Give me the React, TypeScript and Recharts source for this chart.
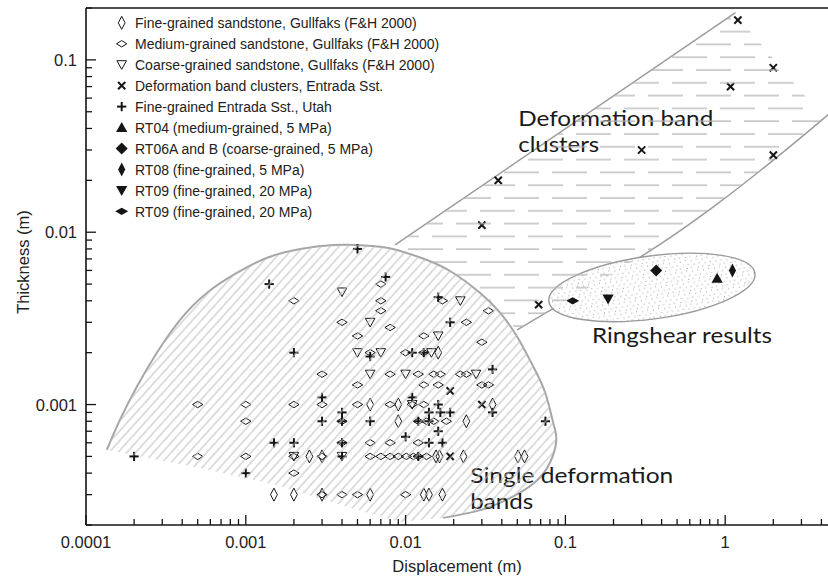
import React from 'react';
import {
  ComposedChart, XAxis, YAxis, Scatter, Line, ReferenceDot, ReferenceLine,
  Legend, Curve, Label,
} from 'recharts';

// ---------------- data (displacement m, thickness m) ----------------
const fineGrainedGullfaks = [
  { x: 0.0025, y: 0.0005 }, { x: 0.003, y: 0.0005 }, { x: 0.006, y: 0.001 }, { x: 0.009, y: 0.001 },
  { x: 0.035, y: 0.001 }, { x: 0.009, y: 0.0008 }, { x: 0.024, y: 0.0008 }, { x: 0.016, y: 0.002 },
  { x: 0.0155, y: 0.0005 }, { x: 0.0163, y: 0.0005 }, { x: 0.023, y: 0.0005 }, { x: 0.0505, y: 0.0005 },
  { x: 0.0555, y: 0.0005 }, { x: 0.0015, y: 0.0003 }, { x: 0.002, y: 0.0003 }, { x: 0.003, y: 0.0003 },
  { x: 0.006, y: 0.0003 }, { x: 0.013, y: 0.0003 }, { x: 0.014, y: 0.0003 }, { x: 0.017, y: 0.0003 },
];

const mediumGrainedGullfaks = [
  { x: 0.002, y: 0.004 }, { x: 0.007, y: 0.005 }, { x: 0.007, y: 0.004 }, { x: 0.007, y: 0.0035 },
  { x: 0.017, y: 0.004 }, { x: 0.033, y: 0.0035 }, { x: 0.004, y: 0.003 }, { x: 0.024, y: 0.003 },
  { x: 0.008, y: 0.0028 }, { x: 0.005, y: 0.0025 }, { x: 0.013, y: 0.0025 }, { x: 0.03, y: 0.0023 },
  { x: 0.006, y: 0.002 }, { x: 0.01, y: 0.002 }, { x: 0.013, y: 0.002 },
  { x: 0.003, y: 0.0015 }, { x: 0.008, y: 0.0015 }, { x: 0.012, y: 0.0015 }, { x: 0.015, y: 0.0015 },
  { x: 0.0165, y: 0.0015 }, { x: 0.022, y: 0.0015 }, { x: 0.024, y: 0.0015 },
  { x: 0.005, y: 0.0013 }, { x: 0.013, y: 0.0013 }, { x: 0.016, y: 0.0013 }, { x: 0.03, y: 0.0013 },
  { x: 0.033, y: 0.0013 },
  { x: 0.0005, y: 0.001 }, { x: 0.001, y: 0.001 }, { x: 0.002, y: 0.001 }, { x: 0.003, y: 0.001 },
  { x: 0.005, y: 0.001 }, { x: 0.008, y: 0.001 }, { x: 0.011, y: 0.001 }, { x: 0.013, y: 0.001 },
  { x: 0.001, y: 0.0008 }, { x: 0.004, y: 0.0008 }, { x: 0.012, y: 0.0008 }, { x: 0.0135, y: 0.0008 },
  { x: 0.015, y: 0.0008 }, { x: 0.018, y: 0.0008 },
  { x: 0.004, y: 0.0006 }, { x: 0.006, y: 0.0006 }, { x: 0.008, y: 0.0006 }, { x: 0.012, y: 0.0006 },
  { x: 0.0005, y: 0.0005 }, { x: 0.001, y: 0.0005 }, { x: 0.002, y: 0.0005 }, { x: 0.003, y: 0.0005 },
  { x: 0.006, y: 0.0005 }, { x: 0.007, y: 0.0005 }, { x: 0.008, y: 0.0005 }, { x: 0.009, y: 0.0005 },
  { x: 0.0101, y: 0.0005 }, { x: 0.0112, y: 0.0005 }, { x: 0.012, y: 0.0005 }, { x: 0.0135, y: 0.0005 },
  { x: 0.002, y: 0.0004 },
  { x: 0.003, y: 0.0003 }, { x: 0.004, y: 0.0003 }, { x: 0.005, y: 0.0003 }, { x: 0.01, y: 0.0003 },
];

const coarseGrainedGullfaks = [
  { x: 0.004, y: 0.0045 }, { x: 0.022, y: 0.004 }, { x: 0.006, y: 0.003 }, { x: 0.016, y: 0.0025 },
  { x: 0.005, y: 0.002 }, { x: 0.007, y: 0.002 }, { x: 0.0145, y: 0.002 },
  { x: 0.006, y: 0.0015 }, { x: 0.01, y: 0.0015 }, { x: 0.0276, y: 0.0015 },
  { x: 0.011, y: 0.001 }, { x: 0.002, y: 0.0005 }, { x: 0.004, y: 0.0005 },
];

const deformationBandClusters = [
  { x: 1.2, y: 0.17 }, { x: 2.0, y: 0.09 }, { x: 1.08, y: 0.07 }, { x: 0.3, y: 0.03 },
  { x: 2.0, y: 0.028 }, { x: 0.038, y: 0.02 }, { x: 0.03, y: 0.011 }, { x: 0.068, y: 0.0038 },
  { x: 0.019, y: 0.0012 }, { x: 0.03, y: 0.001 }, { x: 0.019, y: 0.0005 },
];

const entradaUtah = [
  { x: 0.0002, y: 0.0005 }, { x: 0.0014, y: 0.005 }, { x: 0.005, y: 0.008 }, { x: 0.0075, y: 0.0055 },
  { x: 0.016, y: 0.0042 }, { x: 0.019, y: 0.003 }, { x: 0.002, y: 0.002 }, { x: 0.006, y: 0.0019 },
  { x: 0.011, y: 0.002 }, { x: 0.013, y: 0.002 }, { x: 0.035, y: 0.0016 },
  { x: 0.003, y: 0.0011 }, { x: 0.011, y: 0.0011 }, { x: 0.016, y: 0.001 },
  { x: 0.004, y: 0.0009 }, { x: 0.014, y: 0.0009 }, { x: 0.0165, y: 0.0009 }, { x: 0.019, y: 0.0009 },
  { x: 0.035, y: 0.0009 },
  { x: 0.003, y: 0.0008 }, { x: 0.004, y: 0.0008 }, { x: 0.006, y: 0.0008 }, { x: 0.012, y: 0.0008 },
  { x: 0.014, y: 0.0008 }, { x: 0.075, y: 0.0008 }, { x: 0.016, y: 0.0007 }, { x: 0.01, y: 0.00065 },
  { x: 0.0015, y: 0.0006 }, { x: 0.002, y: 0.0006 }, { x: 0.004, y: 0.0006 }, { x: 0.014, y: 0.0006 },
  { x: 0.017, y: 0.0006 }, { x: 0.004, y: 0.0005 }, { x: 0.012, y: 0.0005 }, { x: 0.001, y: 0.0004 },
];

const rt04 = [{ x: 0.89, y: 0.0054 }];
const rt06 = [{ x: 0.37, y: 0.006 }];
const rt08 = [{ x: 1.11, y: 0.006 }];
const rt09 = [{ x: 0.185, y: 0.0041 }];
const rt09b = [{ x: 0.111, y: 0.004 }];

// envelope outlines (data coordinates)
const singleBandOutline = [
  { x: 0.000135, y: 0.000545 }, { x: 0.000163, y: 0.000814 }, { x: 0.000208, y: 0.00127 },
  { x: 0.000277, y: 0.00199 }, { x: 0.000388, y: 0.0031 }, { x: 0.00057, y: 0.00444 },
  { x: 0.000878, y: 0.0058 }, { x: 0.00135, y: 0.00709 }, { x: 0.00219, y: 0.008 },
  { x: 0.00352, y: 0.00843 }, { x: 0.00495, y: 0.00843 }, { x: 0.00693, y: 0.00824 },
  { x: 0.00882, y: 0.00789 }, { x: 0.0136, y: 0.0069 }, { x: 0.0199, y: 0.0058 },
  { x: 0.0293, y: 0.00444 }, { x: 0.0391, y: 0.0034 }, { x: 0.0498, y: 0.00248 },
  { x: 0.063, y: 0.00166 }, { x: 0.0748, y: 0.00117 }, { x: 0.084, y: 0.00078 },
  { x: 0.0877, y: 0.00062 }, { x: 0.0804, y: 0.000464 }, { x: 0.0648, y: 0.000355 },
  { x: 0.0452, y: 0.000287 }, { x: 0.0293, y: 0.000244 }, { x: 0.0172, y: 0.00022 },
];
const singleBandLowerEdge = [
  { x: 0.00925, y: 0.000208 }, { x: 0.00337, y: 0.000272 }, { x: 0.00164, y: 0.000337 },
  { x: 0.000517, y: 0.000428 },
];
const clusterUpperEdge = [{ x: 0.0086, y: 0.00843 }, { x: 1.16, y: 0.188 }];
const clusterLowerEdge = [
  { x: 0.0498, y: 0.00271 }, { x: 0.1125, y: 0.00423 }, { x: 0.309, y: 0.00738 },
  { x: 0.847, y: 0.01408 }, { x: 2.01, y: 0.0263 }, { x: 4.14, y: 0.0458 }, { x: 5.3, y: 0.0562 },
];
const clusterFill = [
  { x: 0.0086, y: 0.00843 }, { x: 1.16, y: 0.188 }, { x: 1.25, y: 0.17 }, { x: 4.14, y: 0.0458 },
  { x: 2.01, y: 0.0263 }, { x: 0.847, y: 0.01408 }, { x: 0.309, y: 0.00738 }, { x: 0.1125, y: 0.00423 },
  { x: 0.0498, y: 0.00271 }, { x: 0.0391, y: 0.0034 }, { x: 0.0293, y: 0.00444 }, { x: 0.0199, y: 0.0058 },
  { x: 0.0136, y: 0.0069 }, { x: 0.00882, y: 0.00789 },
];
const ringshearCentre = { x: 0.348, y: 0.00478 };

const annotations = [
  { x: 0.0507, y: 0.0412, lines: ['Deformation band', 'clusters'], widths: [195, 81] },
  { x: 0.1467, y: 0.00228, lines: ['Ringshear results'], widths: [180] },
  { x: 0.0254, y: 0.00035, lines: ['Single deformation', 'bands'], widths: [203, 63] },
];

const legendEntries = [
  { kind: 'fine', label: 'Fine-grained sandstone, Gullfaks (F&H 2000)' },
  { kind: 'medium', label: 'Medium-grained sandstone, Gullfaks (F&H 2000)' },
  { kind: 'coarse', label: 'Coarse-grained sandstone, Gullfaks (F&H 2000)' },
  { kind: 'cross', label: 'Deformation band clusters, Entrada Sst.' },
  { kind: 'plus', label: 'Fine-grained Entrada Sst., Utah' },
  { kind: 'rt04', label: 'RT04 (medium-grained, 5 MPa)' },
  { kind: 'rt06', label: 'RT06A and B (coarse-grained, 5 MPa)' },
  { kind: 'rt08', label: 'RT08 (fine-grained, 5 MPa)' },
  { kind: 'rt09', label: 'RT09 (fine-grained, 20 MPa)' },
  { kind: 'rt09b', label: 'RT09 (fine-grained, 20 MPa)' },
];

const X_DECADES = [0.0001, 0.001, 0.01, 0.1, 1];
const X_LABELS = ['0.0001', '0.001', '0.01', '0.1', '1'];
const Y_DECADES = [0.001, 0.01, 0.1];
const Y_LABELS = ['0.001', '0.01', '0.1'];
const MULT = [1, 2, 3, 4, 5, 6, 7, 8, 9];
const xTicks = [...X_DECADES.flatMap((m) => MULT.map((k) => +(m * k).toPrecision(3))), 10];
const yTicks = [0.0001, 0.001, 0.01, 0.1]
  .flatMap((m) => MULT.map((k) => +(m * k).toPrecision(3)))
  .filter((v) => v >= 0.0002 && v <= 0.2);

// ---------------- styling helpers ----------------
const INK = '#151515';
const SANS = "'Liberation Sans', Arial, Helvetica, sans-serif";
const HUMANIST = "Lato, 'Open Sans', sans-serif";

function marker(kind: string, cx: number, cy: number) {
  const p = (pts: number[][]) => pts.map((q) => `${q[0]},${q[1]}`).join(' ');
  switch (kind) {
    case 'fine':
      return <polygon points={p([[cx, cy - 6.5], [cx + 3.4, cy], [cx, cy + 6.5], [cx - 3.4, cy]])} fill="none" stroke={INK} strokeWidth={1} />;
    case 'medium':
      return <polygon points={p([[cx - 5.2, cy], [cx, cy - 3.2], [cx + 5.2, cy], [cx, cy + 3.2]])} fill="none" stroke={INK} strokeWidth={1} />;
    case 'coarse':
      return <polygon points={p([[cx - 4.8, cy - 4], [cx + 4.8, cy - 4], [cx, cy + 4.6]])} fill="none" stroke={INK} strokeWidth={1} />;
    case 'cross':
      return (
        <g stroke={INK} strokeWidth={2}>
          <line x1={cx - 3.6} y1={cy - 3.6} x2={cx + 3.6} y2={cy + 3.6} />
          <line x1={cx - 3.6} y1={cy + 3.6} x2={cx + 3.6} y2={cy - 3.6} />
        </g>
      );
    case 'plus':
      return (
        <g stroke={INK} strokeWidth={2}>
          <line x1={cx - 4.6} y1={cy} x2={cx + 4.6} y2={cy} />
          <line x1={cx} y1={cy - 4.6} x2={cx} y2={cy + 4.6} />
        </g>
      );
    case 'rt04':
      return <polygon points={p([[cx, cy - 5.5], [cx + 5.6, cy + 4.5], [cx - 5.6, cy + 4.5]])} fill={INK} />;
    case 'rt06':
      return <polygon points={p([[cx, cy - 6], [cx + 6, cy], [cx, cy + 6], [cx - 6, cy]])} fill={INK} />;
    case 'rt08':
      return <polygon points={p([[cx, cy - 7], [cx + 3.6, cy], [cx, cy + 7], [cx - 3.6, cy]])} fill={INK} />;
    case 'rt09':
      return <polygon points={p([[cx - 5.6, cy - 4.5], [cx + 5.6, cy - 4.5], [cx, cy + 5.5]])} fill={INK} />;
    case 'rt09b':
      return <polygon points={p([[cx - 6.5, cy], [cx, cy - 3.6], [cx + 6.5, cy], [cx, cy + 3.6]])} fill={INK} />;
    default:
      return <g />;
  }
}

const polygonDot = (fill: string) => (props: any) => {
  if (props.index !== 0 || !props.points) return <g key={`e${props.index}`} />;
  return <Curve key="poly" type="linearClosed" points={props.points} fill={fill} stroke="none" />;
};

const XTick = (props: any) => {
  const { x, y, payload } = props;
  const idx = X_DECADES.indexOf(payload.value);
  const major = idx >= 0;
  return (
    <g>
      <line x1={x} x2={x} y1={y} y2={y - (major ? 10 : 6)} stroke={INK} strokeWidth={1.3} />
      {major && (
        <text x={x} y={y + 22.5} textAnchor="middle" fontSize={16.5} fontFamily={SANS} fill="#222">{X_LABELS[idx]}</text>
      )}
    </g>
  );
};

const YTick = (props: any) => {
  const { x, y, payload } = props;
  const idx = Y_DECADES.indexOf(payload.value);
  const major = idx >= 0;
  const ax = x + 9;
  return (
    <g>
      <line x1={ax} x2={ax + (major ? 10 : 6)} y1={y} y2={y} stroke={INK} strokeWidth={1.3} />
      {major && (
        <text x={x} y={y + 6} textAnchor="end" fontSize={16.5} fontFamily={SANS} fill="#222">{Y_LABELS[idx]}</text>
      )}
    </g>
  );
};

const LegendBox = () => (
  <svg width={440} height={225} style={{ display: 'block' }}>
    {legendEntries.map((e, i) => {
      const base = 28.3 + i * 20.95;
      return (
        <g key={e.label + i}>
          {marker(e.kind, 121.7, base - 5.5)}
          <text x={135} y={base} fontSize={14} fontFamily={SANS} fill="#222">{e.label}</text>
        </g>
      );
    })}
  </svg>
);

const textShape = (lines: string[], widths: number[]) => (props: any) => (
  <g>
    {lines.map((l, i) => (
      <text key={i} x={props.cx} y={props.cy + i * 26} fontSize={21.5} fontFamily={HUMANIST}
        fill="#1a1a1a" textLength={widths[i]} lengthAdjust="spacingAndGlyphs">{l}</text>
    ))}
  </g>
);

const ellipseShape = (props: any) => {
  const { cx, cy } = props;
  return (
    <g transform={`rotate(-7.8 ${cx} ${cy})`}>
      <ellipse cx={cx} cy={cy} rx={104} ry={31.5} fill="#fff" />
      <ellipse cx={cx} cy={cy} rx={104} ry={31.5} fill="url(#stipple)" stroke="#9a9a9a" strokeWidth={1.4} />
    </g>
  );
};

export default function App() {
  return (
    <div style={{ position: 'absolute', left: 0, top: 0, width: 828, height: 581, overflow: 'hidden', background: '#fff' }}>
      <ComposedChart width={885} height={581} margin={{ top: 8, right: 0, bottom: 0, left: 0 }}>
        <defs>
          <pattern id="hatch" width="6.6" height="10" patternUnits="userSpaceOnUse" patternTransform="rotate(42)">
            <line x1="1" y1="0" x2="1" y2="10" stroke="#bdbdbd" strokeWidth="1" />
          </pattern>
          <pattern id="dashes" width="48" height="25.6" patternUnits="userSpaceOnUse">
            <line x1="0" y1="6" x2="35" y2="6" stroke="#b3b3b3" strokeWidth="1.3" />
            <line x1="24" y1="18.8" x2="48" y2="18.8" stroke="#b3b3b3" strokeWidth="1.3" />
            <line x1="0" y1="18.8" x2="11" y2="18.8" stroke="#b3b3b3" strokeWidth="1.3" />
          </pattern>
          <pattern id="stipple" width="11" height="11" patternUnits="userSpaceOnUse">
            <circle cx="1.5" cy="2" r="0.55" fill="#8a8a8a" />
            <circle cx="6.5" cy="1" r="0.55" fill="#8a8a8a" />
            <circle cx="4" cy="6" r="0.55" fill="#8a8a8a" />
            <circle cx="9" cy="5.5" r="0.55" fill="#8a8a8a" />
            <circle cx="1" cy="9" r="0.55" fill="#8a8a8a" />
            <circle cx="7.5" cy="9.5" r="0.55" fill="#8a8a8a" />
          </pattern>
        </defs>

        <XAxis
          dataKey="x" type="number" scale="log" domain={[0.0001, 10]} allowDataOverflow
          ticks={xTicks} interval={0} tick={(p: any) => <XTick {...p} />} tickLine={false}
          tickSize={0} tickMargin={0} axisLine={{ stroke: INK, strokeWidth: 1.6 }} height={56}
          label={<Label content={() => (
            <text x={457} y={572} textAnchor="middle" fontSize={16.5} fontFamily={SANS} fill="#222">Displacement (m)</text>
          )} />}
        />
        <YAxis
          dataKey="y" type="number" scale="log" domain={[0.0002, 0.2]} allowDataOverflow
          ticks={yTicks} interval={0} tick={(p: any) => <YTick {...p} />} tickLine={false}
          tickSize={0} tickMargin={9} axisLine={{ stroke: INK, strokeWidth: 1.6 }} width={86}
          label={<Label content={() => (
            <text x={29} y={262} transform="rotate(-90 29 262)" textAnchor="middle" fontSize={16.5} fontFamily={SANS} fill="#222">Thickness (m)</text>
          )} />}
        />

        <Line data={[...singleBandOutline, ...singleBandLowerEdge]} dataKey="y" stroke="none"
          dot={polygonDot('url(#hatch)')} activeDot={false} isAnimationActive={false} legendType="none" />
        <Line data={clusterFill} dataKey="y" stroke="none"
          dot={polygonDot('url(#dashes)')} activeDot={false} isAnimationActive={false} legendType="none" />

        <ReferenceDot x={ringshearCentre.x} y={ringshearCentre.y} r={0} ifOverflow="visible" shape={ellipseShape} />

        <Line data={singleBandOutline} dataKey="y" type="natural" stroke="#a6a6a6" strokeWidth={2}
          dot={false} activeDot={false} isAnimationActive={false} legendType="none" />
        <Line data={clusterUpperEdge} dataKey="y" type="linear" stroke="#9c9c9c" strokeWidth={1.5}
          dot={false} activeDot={false} isAnimationActive={false} legendType="none" />
        <Line data={clusterLowerEdge} dataKey="y" type="natural" stroke="#9c9c9c" strokeWidth={1.5}
          dot={false} activeDot={false} isAnimationActive={false} legendType="none" />

        <ReferenceLine y={0.2} stroke={INK} strokeWidth={1.6} ifOverflow="visible" />

        {annotations.map((a, i) => (
          <ReferenceDot key={'ann' + i} x={a.x} y={a.y} r={0} ifOverflow="visible" shape={textShape(a.lines, a.widths)} />
        ))}

        <Scatter data={fineGrainedGullfaks} isAnimationActive={false} shape={(p: any) => marker('fine', p.cx, p.cy)} />
        <Scatter data={mediumGrainedGullfaks} isAnimationActive={false} shape={(p: any) => marker('medium', p.cx, p.cy)} />
        <Scatter data={coarseGrainedGullfaks} isAnimationActive={false} shape={(p: any) => marker('coarse', p.cx, p.cy)} />
        <Scatter data={deformationBandClusters} isAnimationActive={false} shape={(p: any) => marker('cross', p.cx, p.cy)} />
        <Scatter data={entradaUtah} isAnimationActive={false} shape={(p: any) => marker('plus', p.cx, p.cy)} />
        <Scatter data={rt04} isAnimationActive={false} shape={(p: any) => marker('rt04', p.cx, p.cy)} />
        <Scatter data={rt06} isAnimationActive={false} shape={(p: any) => marker('rt06', p.cx, p.cy)} />
        <Scatter data={rt08} isAnimationActive={false} shape={(p: any) => marker('rt08', p.cx, p.cy)} />
        <Scatter data={rt09} isAnimationActive={false} shape={(p: any) => marker('rt09', p.cx, p.cy)} />
        <Scatter data={rt09b} isAnimationActive={false} shape={(p: any) => marker('rt09b', p.cx, p.cy)} />

        <Legend layout="vertical" align="center" verticalAlign="middle"
          wrapperStyle={{ left: 0, top: 0, width: 440, height: 225 }} content={() => <LegendBox />} />
      </ComposedChart>
    </div>
  );
}
